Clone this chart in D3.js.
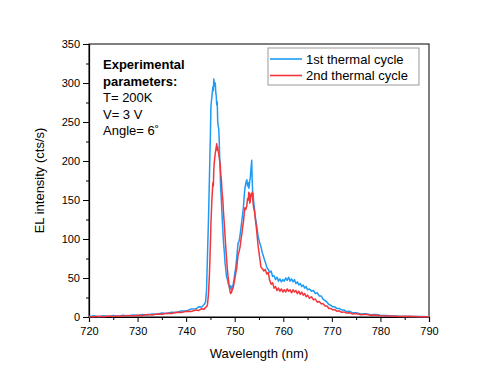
<!DOCTYPE html>
<html>
<head>
<meta charset="utf-8">
<script src="https://cdn.jsdelivr.net/npm/d3@7"></script>
<style>
  body { margin: 0; background: #fff; }
  svg text { font-family: "Liberation Sans", Arial, sans-serif; fill: #000; }
</style>
</head>
<body>
<svg id="svg1"></svg>
<script>
// wavelength samples (nm)
var wavelength = [
  720, 721, 722, 723, 724, 725, 726, 727, 728, 729, 730, 731, 732, 733, 734, 735, 736, 737, 738, 739,
  740, 741, 742, 742.6, 743.2, 743.7, 744.0,
  744.2, 744.4, 744.6, 744.8, 745.0, 745.1, 745.3, 745.5, 745.6, 745.7,
  745.8, 745.9, 746.0, 746.1, 746.2, 746.3, 746.4, 746.5, 746.6, 746.7,
  746.8, 746.9, 747.0, 747.1, 747.25, 747.4, 747.55, 747.7, 747.85, 748.0,
  748.15, 748.3, 748.5, 748.7, 748.85, 749.0, 749.15, 749.3, 749.5, 749.7,
  749.85, 750.0, 750.2, 750.4, 750.55, 750.7, 750.9, 751.1, 751.3, 751.5,
  751.65, 751.8, 751.95, 752.1, 752.3, 752.5, 752.65, 752.8, 752.9, 753.0,
  753.1, 753.2, 753.35, 753.5, 753.6, 753.7, 753.8, 753.9, 754.05,
  754.2, 754.5, 754.8, 755.1, 755.4, 755.7, 756.0, 756.3, 756.6, 756.9,
  757.2, 757.5, 757.8, 758.1, 758.4, 758.7, 759.0, 759.3, 759.6, 759.9,
  760.2, 760.5, 760.8, 761.1, 761.4, 761.7, 762.0, 762.3, 762.6, 762.9,
  763.2, 763.5, 763.8, 764.1, 764.4, 764.7, 765.0, 765.4, 765.8, 766.2,
  766.6, 767.0, 767.4, 767.8, 768.2, 768.6, 769.0, 769.4, 769.8, 770.2,
  770.6, 771.0, 771.5, 772.0, 772.5, 773.0, 773.6, 774.2, 775, 776,
  777, 778, 779, 780, 782, 784, 786, 788, 790];

// 1st thermal cycle (cts/s)
var cycle1 = [
  0.5, 1.5, 0.4, 1.6, 0.8, 1.9, 1.0, 2.2, 1.4, 2.6, 2.0, 3.3, 2.6, 4.0, 3.5, 5.0, 4.6, 6.2, 5.9, 7.8,
  7.6, 10.2, 10.5, 13.0, 12.8, 16.0, 19,
  35, 80, 125, 180, 235, 270, 282, 295, 290, 305,
  299, 296, 300, 288, 283, 272, 276, 250, 245, 242,
  228, 205, 190, 165, 150, 130, 112, 95, 84, 70,
  62, 52, 48, 42, 40, 37, 40, 35, 39, 42,
  48, 55, 63, 75, 86, 95, 97, 105, 115, 125,
  133, 141, 155, 165, 172, 176, 168, 172, 165, 169,
  175, 178, 190, 201, 175, 160, 158, 148, 140,
  130, 118, 104, 96, 90, 82, 76, 70, 64, 61,
  57, 59, 52, 53, 48, 51, 46, 49, 45, 48,
  46, 50, 47, 51, 46, 49, 45, 48, 43, 45,
  41, 43, 39, 41, 37, 39, 35, 36, 33, 34,
  30, 31, 27, 27, 23, 21, 19, 16, 15, 13,
  13, 11, 11, 9, 9, 7, 7.5, 5.5, 5.5, 4,
  4.2, 3, 3.2, 2.2, 1.5, 1.1, 0.7, 0.6, 0.4];

// 2nd thermal cycle (cts/s)
var cycle2 = [
  0.3, 0.2, 1.0, 0.3, 1.2, 0.6, 1.4, 0.9, 1.8, 1.2, 2.3, 1.8, 3.1, 2.5, 3.8, 3.4, 4.9, 4.4, 6.0, 5.7,
  7.4, 7.0, 9.0, 8.4, 10.6, 10.0, 12.5,
  13, 16, 30, 55, 95, 120, 150, 172, 168, 190,
  198, 205, 210, 214, 218, 222, 214, 218, 212, 210,
  205, 200, 196, 185, 176, 160, 150, 133, 120, 105,
  90, 77, 60, 48, 40, 34, 30, 31, 35, 38,
  43, 48, 56, 62, 72, 80, 84, 90, 100, 108,
  116, 122, 132, 140, 138, 143, 152, 150, 160, 158,
  146, 148, 158, 155, 160, 152, 145, 140, 136,
  128, 112, 92, 78, 64, 62, 59, 61, 55, 57,
  47, 42, 44, 37, 39, 34, 37, 33, 36, 32,
  35, 32, 36, 33, 35, 31, 35, 32, 34, 30,
  33, 29, 32, 28, 30, 26, 28, 24, 26, 22,
  23, 19, 20, 17, 17, 14, 14, 11, 11, 9,
  9.5, 7.5, 8, 6, 6.5, 5, 5.5, 4, 4.5, 3,
  3.4, 2.2, 2.6, 1.6, 1.4, 0.7, 0.9, 0.3, 0.4];

var xTicks = [720, 730, 740, 750, 760, 770, 780, 790];
var yTicks = [0, 50, 100, 150, 200, 250, 300, 350];
var seriesNames = ["1st thermal cycle", "2nd thermal cycle"];
var noteLines = ["Experimental", "parameters:", "T= 200K", "V= 3 V", "Angle= 6\u02da"];

var margin = {top: 44, right: 69, bottom: 65, left: 89},
    width = 498 - margin.left - margin.right,
    height = 382 - margin.top - margin.bottom;

var svg = d3.select("#svg1")
  .attr("width", width + margin.left + margin.right)
  .attr("height", height + margin.top + margin.bottom)
  .append("g")
  .attr("transform", "translate(" + margin.left + "," + margin.top + ")");

var x = d3.scaleLinear().domain([720, 790]).range([0, width]);
var y = d3.scaleLinear().domain([0, 350]).range([height, 0]);

// frame
svg.append("rect")
  .attr("width", width).attr("height", height)
  .attr("fill", "none").attr("stroke", "#000").attr("stroke-width", 1);

// minor ticks
svg.append("g")
  .attr("transform", "translate(0," + height + ")")
  .call(d3.axisBottom(x).tickValues(d3.range(725, 790, 10)).tickSize(3).tickFormat(""))
  .call(function(g) { g.select(".domain").remove(); });
svg.append("g")
  .call(d3.axisLeft(y).tickValues(d3.range(25, 350, 50)).tickSize(3).tickFormat(""))
  .call(function(g) { g.select(".domain").remove(); });

// major ticks + labels
var xAxis = svg.append("g")
  .attr("transform", "translate(0," + height + ")")
  .call(d3.axisBottom(x).tickValues(xTicks).tickSize(5).tickPadding(5));
var yAxis = svg.append("g")
  .call(d3.axisLeft(y).tickValues(yTicks).tickSize(6).tickPadding(3));
[xAxis, yAxis].forEach(function(a) {
  a.select(".domain").attr("stroke-width", 1.2);
  a.selectAll("text").style("font-size", "11px").style("font-family", "Liberation Sans, Arial, sans-serif");
});

svg.append("text")
  .attr("x", width / 2).attr("y", height + 41)
  .style("text-anchor", "middle").style("font-size", "13px")
  .text("Wavelength (nm)");

svg.append("text")
  .attr("transform", "rotate(-90)")
  .attr("x", -height / 2).attr("y", -45)
  .style("text-anchor", "middle").style("font-size", "13px")
  .text("EL intensity (cts/s)");

// spectra
var line = d3.line()
  .x(function(d) { return x(d[0]); })
  .y(function(d) { return y(d[1]); });
var colors = ["#1e9bf5", "#f2363c"];
[cycle1, cycle2].forEach(function(vals, i) {
  svg.append("path")
    .datum(wavelength.map(function(w, k) { return [w, vals[k]]; }))
    .attr("fill", "none")
    .attr("stroke", colors[i])
    .attr("stroke-width", 1.5)
    .attr("stroke-linejoin", "round")
    .attr("d", line);
});

// legend
var legend = svg.append("g").attr("transform", "translate(" + (268 - margin.left) + "," + (48 - margin.top) + ")");
legend.append("rect")
  .attr("width", 151).attr("height", 37)
  .attr("fill", "#fff").attr("stroke", "#999").attr("stroke-width", 1);
seriesNames.forEach(function(name, i) {
  var ly = 11 + i * 16.5;
  legend.append("line")
    .attr("x1", 2).attr("x2", 34).attr("y1", ly).attr("y2", ly)
    .attr("stroke", colors[i]).attr("stroke-width", 1.6);
  legend.append("text")
    .attr("x", 38).attr("y", ly + 4.5)
    .style("font-size", "13px")
    .text(name);
});

// annotation
noteLines.forEach(function(t, i) {
  svg.append("text")
    .attr("x", 103 - margin.left)
    .attr("y", 69 - margin.top + i * 16.6)
    .style("font-size", "13px")
    .style("font-weight", i < 2 ? "bold" : "normal")
    .text(t);
});
</script>
</body>
</html>
